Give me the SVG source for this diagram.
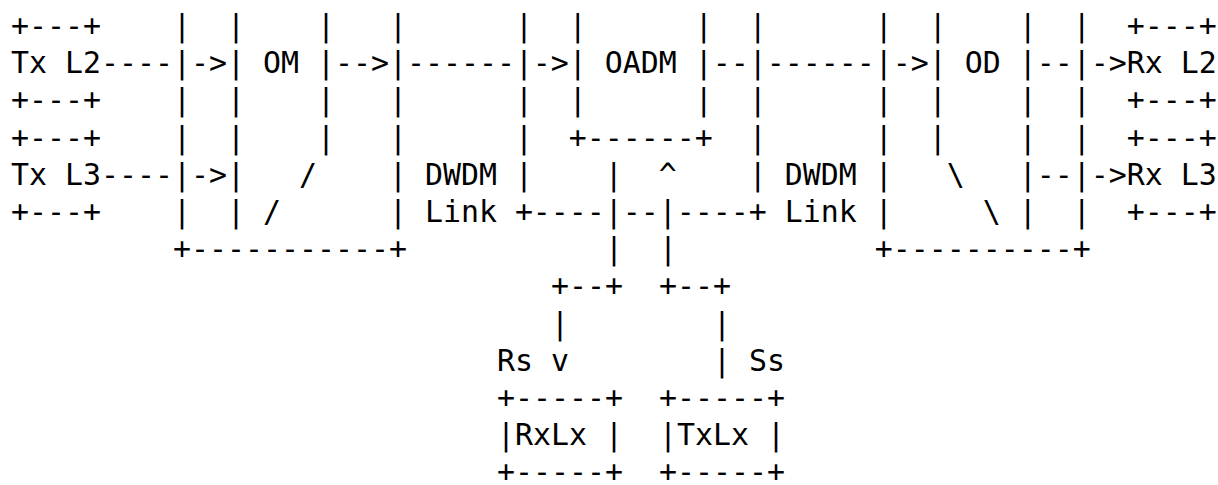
<svg xmlns="http://www.w3.org/2000/svg" width="1218" height="485" viewBox="0 0 1218 485">
<style>
.t{font-family:"DejaVu Sans Mono","Liberation Mono",monospace;font-size:29.9px;fill:#000;white-space:pre}
</style>
<rect width="1218" height="485" fill="#fff"/>
<g id="ascii-diagram" class="t">
<text xml:space="preserve" x="11" y="36">+---+    |  |    |   |      |  |      |  |      |  |    |  |  +---+</text>
<text xml:space="preserve" x="11" y="73.2">Tx L2----|-&gt;| OM |--&gt;|------|-&gt;| OADM |--|------|-&gt;| OD |--|-&gt;Rx L2</text>
<text xml:space="preserve" x="11" y="110.4">+---+    |  |    |   |      |  |      |  |      |  |    |  |  +---+</text>
<text xml:space="preserve" x="11" y="147.6">+---+    |  |    |   |      |  +------+  |      |  |    |  |  +---+</text>
<text xml:space="preserve" x="11" y="184.8">Tx L3----|-&gt;|   /    | DWDM |    |  ^    | DWDM |   \   |--|-&gt;Rx L3</text>
<text xml:space="preserve" x="11" y="222">+---+    |  | /      | Link +----|--|----+ Link |     \ |  |  +---+</text>
<text xml:space="preserve" x="173" y="259.2">+-----------+           |  |           +----------+</text>
<text xml:space="preserve" x="551" y="296.4">+--+  +--+</text>
<text xml:space="preserve" x="551" y="333.6">|        |</text>
<text xml:space="preserve" x="497" y="370.8">Rs v        | Ss</text>
<text xml:space="preserve" x="497" y="408">+-----+  +-----+</text>
<text xml:space="preserve" x="497" y="445.2">|RxLx |  |TxLx |</text>
<text xml:space="preserve" x="497" y="482.4">+-----+  +-----+</text>
</g>
</svg>
